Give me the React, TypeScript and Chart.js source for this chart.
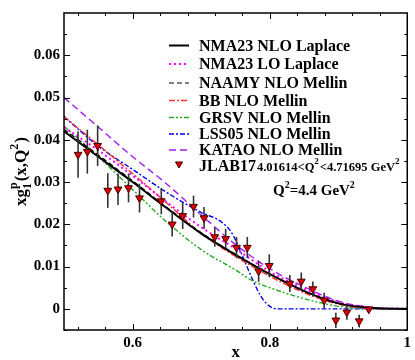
import React, { useEffect, useRef } from "react";
import { Chart, registerables } from "chart.js";
Chart.register(...registerables);

// ---- data ----
const X_GRID = [0.5, 0.55, 0.6, 0.65, 0.7, 0.75, 0.8, 0.85, 0.9, 0.95, 1.0];
const NMA23_NLO = [0.042, 0.036, 0.030, 0.0238, 0.0178, 0.0128, 0.0082, 0.0042, 0.0013, 0.0002, 0];
const NMA23_LO = [0.043, 0.0375, 0.0315, 0.0252, 0.0193, 0.0142, 0.0088, 0.0048, 0.0016, 0.0003, 0];
const NAAMY = [0.0425, 0.0364, 0.0303, 0.024, 0.018, 0.0129, 0.0082, 0.0042, 0.0013, 0.0002, 0];
const BB = [0.0455, 0.0388, 0.032, 0.025, 0.0178, 0.0124, 0.0077, 0.0038, 0.0011, 0.0001, 0];
const GRSV_X = [0.5, 0.55, 0.6, 0.65, 0.7, 0.75, 0.775, 0.8, 0.85, 0.9, 0.95, 1.0];
const GRSV = [0.0432, 0.036, 0.0282, 0.0205, 0.014, 0.0092, 0.0066, 0.005, 0.0024, 0.0006, 0, 0];
const LSS05_X = [0.5, 0.55, 0.6, 0.65, 0.7, 0.73, 0.745, 0.76, 0.775, 0.79, 0.81, 0.9, 1.0];
const LSS05 = [0.0455, 0.0385, 0.033, 0.0275, 0.0228, 0.0205, 0.0178, 0.0125, 0.0068, 0.0022, 0, 0, 0];
const KATAO = [0.05, 0.043, 0.036, 0.0295, 0.0222, 0.0152, 0.0095, 0.0052, 0.0018, 0.0003, 0];

const JLAB_X = [0.5205, 0.534, 0.549, 0.5638, 0.5787, 0.594, 0.61, 0.6417, 0.6576, 0.6729, 0.6887, 0.704, 0.7196,
  0.7355, 0.7513, 0.767, 0.7835, 0.799, 0.829, 0.8456, 0.8625, 0.879, 0.896, 0.912, 0.93, 0.944];
const JLAB_Y = [0.0365, 0.0372, 0.0386, 0.028, 0.0283, 0.0286, 0.0262, 0.0255, 0.02, 0.022, 0.0242, 0.0215, 0.017,
  0.0166, 0.0145, 0.0145, 0.0089, 0.0102, 0.006, 0.0065, 0.0047, 0.002, -0.0027, -0.0008, -0.0029, -0.0001];
const JLAB_ERR = [0.0055, 0.0052, 0.0048, 0.0041, 0.0037, 0.0034, 0.0034, 0.0031, 0.0029, 0.0031, 0.0026, 0.0026, 0.0023,
  0.0023, 0.0025, 0.0025, 0.0025, 0.0027, 0.002, 0.0021, 0.0018, 0.0018, 0.0018, 0.0018, 0.0015, 0.0004];

const Y_TICKS = [0, 0.01, 0.02, 0.03, 0.04, 0.05, 0.06];
const X_TICKS = [0.6, 0.8, 1.0];
const LEGEND_LABELS = [
  "NMA23 NLO Laplace",
  "NMA23 LO Laplace",
  "NAAMY NLO Mellin",
  "BB NLO Mellin",
  "GRSV NLO Mellin",
  "LSS05 NLO Mellin",
  "KATAO NLO Mellin",
  "JLAB17",
];

const SERIF = "'Liberation Serif', 'Times New Roman', serif";

function pts(xs: number[], ys: number[]) {
  return xs.map((x, i) => ({ x, y: ys[i] }));
}

function curve(label: string, xs: number[], ys: number[], color: string, dash: number[], width: number) {
  return {
    label,
    data: pts(xs, ys),
    borderColor: color,
    backgroundColor: color,
    borderDash: dash,
    borderWidth: width,
    pointRadius: 0,
    fill: false,
    cubicInterpolationMode: "monotone" as const,
    order: 1,
  };
}

const framePlugin = {
  id: "frame",
  beforeDatasetDraw(chart: any, args: any) {
    if (args.index !== 7) return;
    const { ctx, scales } = chart;
    const xs = scales.x, ys = scales.y;
    ctx.save();
    ctx.strokeStyle = "#333";
    ctx.lineWidth = 1.6;
    JLAB_X.forEach((x, i) => {
      const px = xs.getPixelForValue(x);
      ctx.beginPath();
      ctx.moveTo(px, ys.getPixelForValue(JLAB_Y[i] + JLAB_ERR[i]));
      ctx.lineTo(px, ys.getPixelForValue(JLAB_Y[i] - JLAB_ERR[i]));
      ctx.stroke();
    });
    ctx.restore();
  },
  afterDraw(chart: any) {
    const { ctx, chartArea: a, scales } = chart;
    const xs = scales.x, ys = scales.y;
    ctx.save();
    ctx.strokeStyle = "#000";
    ctx.lineWidth = 1.5;
    ctx.setLineDash([]);
    ctx.strokeRect(a.left, a.top, a.right - a.left, a.bottom - a.top);
    ctx.lineWidth = 1;
    for (let k = 0; k <= 12; k++) {
      const v = 0.52 + k * 0.04;
      const px = Math.round(xs.getPixelForValue(v)) + 0.5;
      const major = X_TICKS.some((t) => Math.abs(t - v) < 1e-6);
      const len = major ? 6 : 3;
      ctx.beginPath();
      ctx.moveTo(px, a.bottom);
      ctx.lineTo(px, a.bottom - len);
      ctx.moveTo(px, a.top);
      ctx.lineTo(px, a.top + len);
      ctx.stroke();
    }
    for (let k = 0; k <= 14; k++) {
      const v = -0.005 + k * 0.005;
      const py = Math.round(ys.getPixelForValue(v)) + 0.5;
      const major = k % 2 === 1;
      const len = major ? 6 : 3;
      ctx.beginPath();
      ctx.moveTo(a.left, py);
      ctx.lineTo(a.left + len, py);
      ctx.moveTo(a.right, py);
      ctx.lineTo(a.right - len, py);
      ctx.stroke();
    }
    ctx.fillStyle = "#000";
    ctx.font = `bold 17px ${SERIF}`;
    ctx.textAlign = "center";
    ctx.textBaseline = "alphabetic";
    ctx.fillText("x", (a.left + a.right) / 2, 357);

    const main = `bold 17px ${SERIF}`;
    const small = `bold 12px ${SERIF}`;
    ctx.save();
    ctx.translate(26, (a.top + a.bottom) / 2);
    ctx.rotate(-Math.PI / 2);
    ctx.textAlign = "left";
    ctx.font = main;
    const w1 = ctx.measureText("xg").width;
    const w3 = ctx.measureText("(x,Q").width;
    const w5 = ctx.measureText(")").width;
    ctx.font = small;
    const w2 = Math.max(ctx.measureText("1").width, ctx.measureText("p").width) + 1;
    const w4 = ctx.measureText("2").width + 1;
    let cx = -(w1 + w2 + w3 + w4 + w5) / 2;
    ctx.font = main;
    ctx.fillText("xg", cx, 0);
    cx += w1;
    ctx.font = small;
    ctx.fillText("1", cx, 5);
    ctx.fillText("p", cx, -9);
    cx += w2;
    ctx.font = main;
    ctx.fillText("(x,Q", cx, 0);
    cx += w3;
    ctx.font = small;
    ctx.fillText("2", cx, -8);
    cx += w4;
    ctx.font = main;
    ctx.fillText(")", cx, 0);
    ctx.restore();

    const baselines = [50.5, 69, 88, 105.5, 122.5, 139, 155, 171];
    const ds = chart.data.datasets;
    ctx.textAlign = "left";
    ctx.textBaseline = "alphabetic";
    LEGEND_LABELS.forEach((lab, i) => {
      const by = baselines[i];
      const d = ds[i];
      if (i < 7) {
        ctx.save();
        ctx.strokeStyle = d.borderColor;
        ctx.lineWidth = d.borderWidth;
        ctx.setLineDash(d.borderDash);
        ctx.beginPath();
        ctx.moveTo(169, by - 5);
        ctx.lineTo(189, by - 5);
        ctx.stroke();
        ctx.restore();
      } else {
        ctx.save();
        ctx.fillStyle = d.backgroundColor;
        ctx.strokeStyle = d.borderColor;
        ctx.lineWidth = 1;
        ctx.beginPath();
        ctx.moveTo(175.5, by - 9);
        ctx.lineTo(182.5, by - 9);
        ctx.lineTo(179, by - 3);
        ctx.closePath();
        ctx.fill();
        ctx.stroke();
        ctx.restore();
      }
      ctx.fillStyle = "#000";
      ctx.font = `bold 16px ${SERIF}`;
      ctx.fillText(lab, 199, by);
      if (i === 7) {
        let tx = 199 + ctx.measureText(lab).width + 1;
        const sub = `bold 12.5px ${SERIF}`;
        const sup = `bold 9px ${SERIF}`;
        const parts: [string, string, number][] = [
          ["4.01614<Q", sub, 0],
          ["2", sup, -7],
          ["<4.71695 GeV", sub, 0],
          ["2", sup, -7],
        ];
        parts.forEach(([t, f, dy]) => {
          ctx.font = f;
          ctx.fillText(t, tx, by + dy);
          tx += ctx.measureText(t).width + (f === sup ? 1 : 0);
        });
      }
    });
    let qx = 273;
    const qb = 195;
    const qparts: [string, string, number][] = [
      ["Q", `bold 15px ${SERIF}`, 0],
      ["2", `bold 10px ${SERIF}`, -7],
      ["=4.4 GeV", `bold 15px ${SERIF}`, 0],
      ["2", `bold 10px ${SERIF}`, -7],
    ];
    qparts.forEach(([t, f, dy]) => {
      ctx.font = f;
      ctx.fillText(t, qx, qb + dy);
      qx += ctx.measureText(t).width;
    });
    ctx.restore();
  },
};

export default function App() {
  const ref = useRef<HTMLCanvasElement | null>(null);
  useEffect(() => {
    document.body.style.margin = "0";
    const canvas = ref.current;
    if (!canvas) return;
    const datasets: any[] = [
      curve("NMA23 NLO Laplace", X_GRID, NMA23_NLO, "#000000", [], 2),
      curve("NMA23 LO Laplace", X_GRID, NMA23_LO, "#ff00ff", [2, 3], 2),
      curve("NAAMY NLO Mellin", X_GRID, NAAMY, "#000000", [5, 3], 1.2),
      curve("BB NLO Mellin", X_GRID, BB, "#ff3030", [6, 2, 2, 2], 1.4),
      curve("GRSV NLO Mellin", GRSV_X, GRSV, "#22aa22", [5, 2, 2, 2, 2, 2], 1.4),
      curve("LSS05 NLO Mellin", LSS05_X, LSS05, "#0000ee", [5, 2, 2, 2], 1.4),
      curve("KATAO NLO Mellin", X_GRID, KATAO, "#a020f0", [7, 4], 1.4),
      {
        label: "JLAB17",
        data: pts(JLAB_X, JLAB_Y),
        showLine: false,
        pointStyle: "triangle",
        rotation: 180,
        pointRadius: 4.5,
        pointBackgroundColor: "#dd0000",
        pointBorderColor: "#4a0000",
        pointBorderWidth: 1,
        backgroundColor: "#dd0000",
        borderColor: "#4a0000",
        order: 0,
      },
    ];
    const chart = new Chart(canvas, {
      type: "line",
      data: { datasets },
      options: {
        animation: false,
        responsive: false,
        devicePixelRatio: 1,
        layout: { padding: { left: 0, right: 5, top: 1, bottom: 0 } },
        plugins: { legend: { display: false }, tooltip: { enabled: false } },
        scales: {
          x: {
            type: "linear",
            min: 0.5,
            max: 1.0,
            afterFit: (s: any) => {
              s.height = 30;
            },
            afterBuildTicks: (s: any) => {
              s.ticks = X_TICKS.map((v) => ({ value: v }));
            },
            grid: { display: false, drawTicks: false },
            border: { display: false },
            ticks: {
              autoSkip: false,
              maxRotation: 0,
              padding: 4,
              color: "#000",
              font: { family: SERIF, size: 15, weight: "bold" },
              callback: (v: any) => (Math.abs(v - 1) < 1e-9 ? "1" : Number(v).toFixed(1)),
            },
          },
          y: {
            type: "linear",
            min: -0.005,
            max: 0.07,
            afterFit: (s: any) => {
              s.width = 64;
            },
            afterBuildTicks: (s: any) => {
              s.ticks = Y_TICKS.map((v) => ({ value: v }));
            },
            grid: { display: false, drawTicks: false },
            border: { display: false },
            ticks: {
              autoSkip: false,
              padding: 4,
              color: "#000",
              font: { family: SERIF, size: 15, weight: "bold" },
              callback: (v: any) => (Math.abs(v) < 1e-9 ? "0" : Number(v).toFixed(2)),
            },
          },
        },
      },
      plugins: [framePlugin],
    });
    return () => chart.destroy();
  }, []);
  return (
    <div style={{ width: 415, height: 360 }}>
      <canvas ref={ref} width={415} height={360} />
    </div>
  );
}
